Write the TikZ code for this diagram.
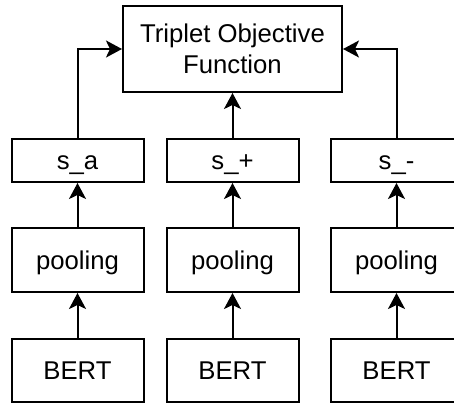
\documentclass[tikz,border=0pt]{standalone}
\usepackage{fontspec}
\setmainfont{Liberation Sans}
\usetikzlibrary{arrows.meta}

\tikzset{
  box/.style={draw, line width=2pt, inner sep=0pt, align=center,
    font=\fontsize{25.7}{31}\selectfont},
  onerow/.style={box, text height=21pt, text depth=3pt},
  colbox/.style={onerow, minimum width=132pt},
  arr/.style={line width=2pt, -{Stealth[length=16pt,width=17pt,inset=4pt]}}
}

\begin{document}
\begin{tikzpicture}[x=1pt,y=-1pt]
  \useasboundingbox (0,0) rectangle (454,405);
  \clip (0,0) rectangle (454,405);

  % objective
  \node[box, minimum width=219pt, minimum height=86pt] (obj) at (232.5,49)
    {Triplet Objective\\Function};

  % sentence vectors
  \node[colbox, minimum height=43pt] (sa) at (77.5,160.5) {s\_a};
  \node[colbox, minimum height=43pt] (sp) at (232.5,160.5) {s\_+};
  \node[colbox, minimum height=43pt] (sm) at (396.5,160.5) {s\_-};

  % pooling layers
  \node[colbox, minimum height=64pt] (pa) at (77.5,260) {pooling};
  \node[colbox, minimum height=64pt] (pp) at (232.5,260) {pooling};
  \node[colbox, minimum height=64pt] (pm) at (396.5,260) {pooling};

  % encoders
  \node[colbox, minimum height=63pt] (ba) at (77.5,370.5) {BERT};
  \node[colbox, minimum height=63pt] (bp) at (232.5,370.5) {BERT};
  \node[colbox, minimum height=63pt] (bm) at (396.5,370.5) {BERT};

  % connectors
  \draw[arr] (ba) -- (pa);
  \draw[arr] (bp) -- (pp);
  \draw[arr] (bm) -- (pm);
  \draw[arr] (pa) -- (sa);
  \draw[arr] (pp) -- (sp);
  \draw[arr] (pm) -- (sm);
  \draw[arr] (sa.north) |- (obj.west);
  \draw[arr] (sp.north) -- (obj.south);
  \draw[arr] (sm.north) |- (obj.east);
\end{tikzpicture}
\end{document}
